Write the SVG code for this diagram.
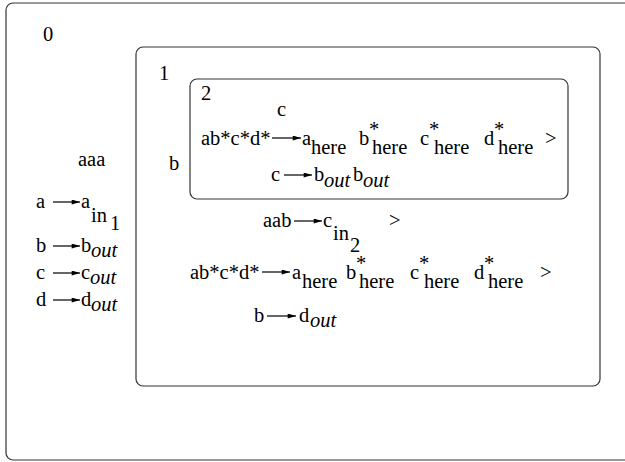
<svg xmlns="http://www.w3.org/2000/svg" width="625" height="462" viewBox="0 0 625 462">
<defs>
<marker id="ah" viewBox="0 0 10 6" refX="10" refY="3" markerWidth="10" markerHeight="5" markerUnits="userSpaceOnUse" orient="auto"><path d="M0,0 L10,3 L0,6 Z" fill="#000"/></marker>
</defs>
<style>
text{font-family:"Liberation Serif","DejaVu Serif","Times New Roman",serif;font-size:20.5px;fill:#000}
.it{font-style:italic}
.box{fill:none;stroke:#333;stroke-width:1.2}
.arr{stroke:#000;stroke-width:1.2;marker-end:url(#ah)}
</style>
<rect width="625" height="462" fill="#fff"/>
<g id="node0">
<rect class="box" x="6" y="3" width="640" height="457" rx="7"/>
<text x="43" y="41">0</text>
<text x="78" y="166">aaa</text>
<text x="36" y="208">a</text>
<text x="81" y="208">a</text>
<text x="91" y="222">in</text>
<text x="110" y="230">1</text>
<text x="36" y="252">b</text>
<text x="81" y="252">b</text>
<text x="91" y="257" class="it">out</text>
<text x="36" y="279">c</text>
<text x="81" y="279">c</text>
<text x="90" y="284" class="it">out</text>
<text x="36" y="306">d</text>
<text x="81" y="306">d</text>
<text x="91" y="311" class="it">out</text>
</g>
<g id="node1">
<rect class="box" x="136" y="47" width="464" height="339" rx="7"/>
<text x="159" y="80">1</text>
<text x="169" y="170">b</text>
<text x="263" y="227">aab</text>
<text x="323" y="227">c</text>
<text x="333" y="240">in</text>
<text x="350" y="252">2</text>
<text x="389" y="227">&gt;</text>
<text x="190" y="279">ab*c*d*</text>
<text x="292" y="279">a</text>
<text x="302" y="288">here</text>
<text x="346" y="279">b</text>
<text x="356" y="270">*</text>
<text x="359" y="288">here</text>
<text x="410" y="279">c</text>
<text x="419" y="270">*</text>
<text x="424" y="288">here</text>
<text x="474" y="279">d</text>
<text x="484" y="270">*</text>
<text x="488" y="288">here</text>
<text x="540" y="279">&gt;</text>
<text x="254" y="322">b</text>
<text x="299" y="322">d</text>
<text x="310" y="327" class="it">out</text>
</g>
<g id="node2">
<rect class="box" x="190" y="79" width="378" height="120" rx="7"/>
<text x="201" y="100">2</text>
<text x="277" y="116">c</text>
<text x="201" y="145">ab*c*d*</text>
<text x="302" y="145">a</text>
<text x="311" y="154">here</text>
<text x="359" y="145">b</text>
<text x="369" y="136">*</text>
<text x="372" y="154">here</text>
<text x="420" y="145">c</text>
<text x="429" y="136">*</text>
<text x="434" y="154">here</text>
<text x="484" y="145">d</text>
<text x="494" y="136">*</text>
<text x="498" y="154">here</text>
<text x="545" y="145">&gt;</text>
<text x="271" y="181">c</text>
<text x="314" y="181">b</text>
<text x="324" y="187" class="it">out</text>
<text x="353" y="181">b</text>
<text x="363" y="187" class="it">out</text>
</g>
<g id="connectors">
<line class="arr" x1="53" y1="202" x2="80" y2="202"/>
<line class="arr" x1="53" y1="246" x2="80" y2="246"/>
<line class="arr" x1="53" y1="273" x2="80" y2="273"/>
<line class="arr" x1="53" y1="300" x2="80" y2="300"/>
<line class="arr" x1="272" y1="138" x2="301" y2="138"/>
<line class="arr" x1="284" y1="175" x2="312" y2="175"/>
<line class="arr" x1="294" y1="221" x2="322" y2="221"/>
<line class="arr" x1="262" y1="272" x2="290" y2="272"/>
<line class="arr" x1="267" y1="316" x2="296" y2="316"/>
</g>
</svg>
